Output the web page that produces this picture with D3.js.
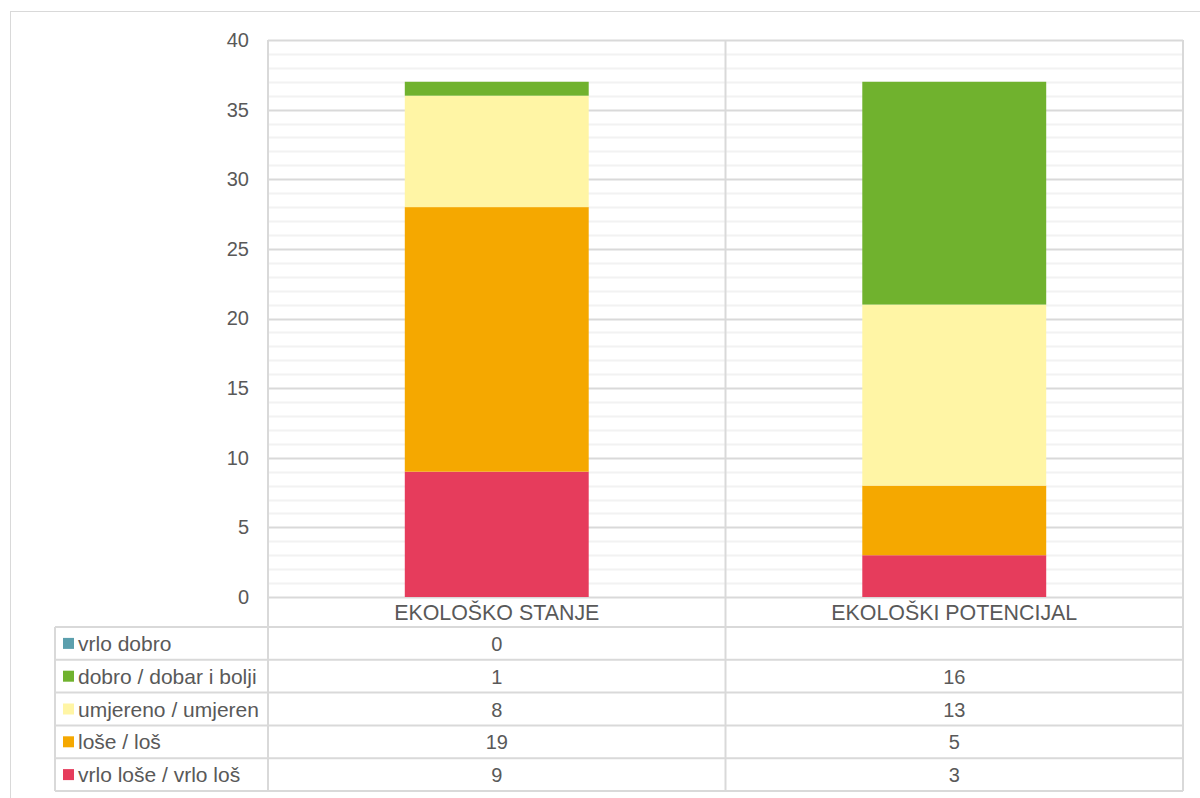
<!DOCTYPE html>
<html><head><meta charset="utf-8">
<script src="https://cdn.jsdelivr.net/npm/d3@7"></script>
<style>
html,body{margin:0;padding:0;background:#fff;}
svg{display:block;font-family:"Liberation Sans",Arial,sans-serif;}
</style></head>
<body><svg id="chart" width="1200" height="798"></svg>
<script>
const categories = ["EKOLOŠKO STANJE", "EKOLOŠKI POTENCIJAL"];
const seriesNames = ["vrlo loše / vrlo loš", "loše / loš", "umjereno / umjeren", "dobro / dobar i bolji", "vrlo dobro"];
const seriesColors = ["#e63c5c", "#f5a800", "#fff5a5", "#70b22e", "#5b9fad"];
const valVrloLose = [9, 3];
const valLose = [19, 5];
const valUmjereno = [8, 13];
const valDobro = [1, 16];
const valVrloDobro = [0, null];
const yTicks = [0, 5, 10, 15, 20, 25, 30, 35, 40];

const seriesValues = [valVrloLose, valLose, valUmjereno, valDobro, valVrloDobro];
const svg = d3.select("#chart");
const textColor = "#595959";
const gridMajor = "#d9d9d9";
const gridMinor = "#f2f2f2";

const pLeft = 268, pRight = 1183, pTop = 40, pBottom = 597;
const x = d3.scaleBand().domain(categories).range([pLeft, pRight]).paddingInner(0).paddingOuter(0);
const y = d3.scaleLinear().domain([0, 40]).range([pBottom, pTop]);
const barW = x.bandwidth() * 0.402;

// outer frame
svg.append("rect").attr("x", 10.5).attr("y", 11.5).attr("width", 1200).attr("height", 800)
  .attr("fill", "none").attr("stroke", gridMajor).attr("stroke-width", 1);

// minor grid
const minor = d3.range(0, 41).filter(v => v % 5 !== 0);
svg.append("g").selectAll("line").data(minor).join("line")
  .attr("x1", pLeft).attr("x2", pRight)
  .attr("y1", d => Math.round(y(d)) + 0.5).attr("y2", d => Math.round(y(d)) + 0.5)
  .attr("stroke", gridMinor).attr("stroke-width", 2);
// major grid
svg.append("g").selectAll("line").data(yTicks).join("line")
  .attr("x1", pLeft).attr("x2", pRight)
  .attr("y1", d => Math.round(y(d)) + 0.5).attr("y2", d => Math.round(y(d)) + 0.5)
  .attr("stroke", gridMajor).attr("stroke-width", 2);

// stacks
const rows = categories.map((c, i) => {
  const o = {cat: c};
  seriesNames.forEach((s, j) => o[s] = seriesValues[j][i] || 0);
  return o;
});
const stack = d3.stack().keys(seriesNames)(rows);
stack.forEach((layer, j) => {
  svg.append("g").selectAll("rect").data(layer).join("rect")
    .attr("x", d => x(d.data.cat) + (x.bandwidth() - barW) / 2)
    .attr("width", barW)
    .attr("y", d => y(d[1]))
    .attr("height", d => y(d[0]) - y(d[1]))
    .attr("fill", seriesColors[j]);
});

// y tick labels
const yAxis = svg.append("g").attr("transform", `translate(${pLeft},0)`)
  .call(d3.axisLeft(y).tickValues(yTicks).tickSize(0).tickPadding(19));
yAxis.select(".domain").remove();
yAxis.selectAll("text").attr("fill", textColor).style("font-size", "20px")
  .style("font-family", "'Liberation Sans',Arial,sans-serif");

// table
const rowH = 32.8;
const tableTop = 627;
const tableLeft = 55;
const tableRows = seriesNames.slice().reverse();
const tableVals = seriesValues.slice().reverse();
const tableColors = seriesColors.slice().reverse();
const gT = svg.append("g");
const hLines = d3.range(0, tableRows.length + 1).map(i => tableTop + i * rowH);
gT.selectAll("line.h").data(hLines).join("line")
  .attr("x1", tableLeft).attr("x2", pRight)
  .attr("y1", d => d).attr("y2", d => d)
  .attr("stroke", gridMajor).attr("stroke-width", 2);
const vLines = [{x: tableLeft, y1: tableTop}, {x: pLeft, y1: pTop}, {x: x(categories[1]), y1: pTop}, {x: pRight, y1: pTop}];
gT.selectAll("line.v").data(vLines).join("line")
  .attr("x1", d => d.x).attr("x2", d => d.x)
  .attr("y1", d => d.y1).attr("y2", tableTop + tableRows.length * rowH)
  .attr("stroke", gridMajor).attr("stroke-width", 2);

// category labels
svg.append("g").selectAll("text").data(categories).join("text")
  .attr("x", d => x(d) + x.bandwidth() / 2).attr("y", 620)
  .attr("text-anchor", "middle").attr("fill", textColor).style("font-size", "21.4px")
  .text(d => d);

// table rows
tableRows.forEach((name, i) => {
  const cy = tableTop + i * rowH + rowH / 2;
  gT.append("rect").attr("x", 63).attr("y", cy - 5.5).attr("width", 11).attr("height", 11)
    .attr("fill", tableColors[i]);
  gT.append("text").attr("x", 78).attr("y", cy + 7.5).attr("fill", textColor)
    .style("font-size", "21px").text(name);
  categories.forEach((c, k) => {
    const v = tableVals[i][k];
    if (v === null || v === undefined) return;
    gT.append("text").attr("x", x(c) + x.bandwidth() / 2).attr("y", cy + 7.5)
      .attr("text-anchor", "middle").attr("fill", textColor).style("font-size", "20px")
      .text(v);
  });
});
</script></body></html>
